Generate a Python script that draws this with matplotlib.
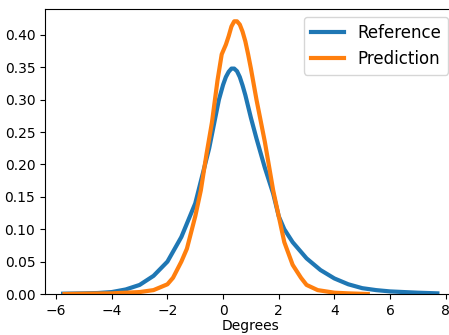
import matplotlib
matplotlib.use("Agg")
import matplotlib.pyplot as plt

# KDE curves
ref_x = [-5.75, -5.0, -4.5, -4.0, -3.5, -3.0, -2.5, -2.0, -1.5, -1.0, -0.5, -0.3, -0.15, 0.0,
         0.1, 0.2, 0.3, 0.4, 0.5, 0.6, 0.7, 0.8, 1.0, 1.2, 1.5, 1.8, 2.0, 2.2, 2.5, 3.0, 3.5,
         4.0, 4.5, 5.0, 5.5, 6.0, 6.5, 7.0, 7.7]
ref_y = [0.0005, 0.001, 0.0015, 0.003, 0.007, 0.014, 0.028, 0.05, 0.088, 0.14, 0.225, 0.268,
         0.3, 0.323, 0.335, 0.343, 0.348, 0.348, 0.344, 0.335, 0.322, 0.307, 0.272, 0.24,
         0.195, 0.155, 0.12, 0.1, 0.08, 0.055, 0.037, 0.024, 0.015, 0.009, 0.006, 0.004,
         0.003, 0.002, 0.001]

pred_x = [-5.7, -5.0, -4.0, -3.0, -2.5, -2.0, -1.8, -1.5, -1.3, -1.0, -0.8, -0.6, -0.4, -0.2,
          -0.05, 0.1, 0.2, 0.3, 0.4, 0.5, 0.6, 0.7, 0.8, 0.9, 1.0, 1.2, 1.5, 1.8, 2.0, 2.2,
          2.5, 2.8, 3.0, 3.4, 4.0, 4.5, 5.2]
pred_y = [0.0, 0.0005, 0.001, 0.003, 0.006, 0.015, 0.025, 0.05, 0.07, 0.12, 0.16, 0.215, 0.265,
          0.33, 0.37, 0.385, 0.398, 0.413, 0.421, 0.421, 0.416, 0.405, 0.39, 0.37, 0.348, 0.3,
          0.235, 0.16, 0.12, 0.08, 0.045, 0.025, 0.014, 0.006, 0.002, 0.001, 0.0]

fig = plt.figure(figsize=(4.49, 3.35), dpi=100)
ax = fig.add_axes([45 / 449, 41 / 335, 411 / 449, 285 / 335])

ax.plot(ref_x, ref_y, color="tab:blue", lw=3, label="Reference")
ax.plot(pred_x, pred_y, color="tab:orange", lw=3, label="Prediction")

ax.set_xlim(-6.4, 8.37)
ax.set_ylim(0, 0.44)
ax.set_xticks([-6, -4, -2, 0, 2, 4, 6, 8])
ax.set_yticks([0.0, 0.05, 0.1, 0.15, 0.2, 0.25, 0.3, 0.35, 0.4])
ax.set_yticklabels(["0.00", "0.05", "0.10", "0.15", "0.20", "0.25", "0.30", "0.35", "0.40"])
ax.set_xlabel("Degrees", labelpad=1)

ax.legend(loc="upper right", fontsize=12, bbox_to_anchor=(448 / 449, 318 / 335),
          bbox_transform=fig.transFigure, borderaxespad=0)

fig.savefig("out.png", dpi=100)
